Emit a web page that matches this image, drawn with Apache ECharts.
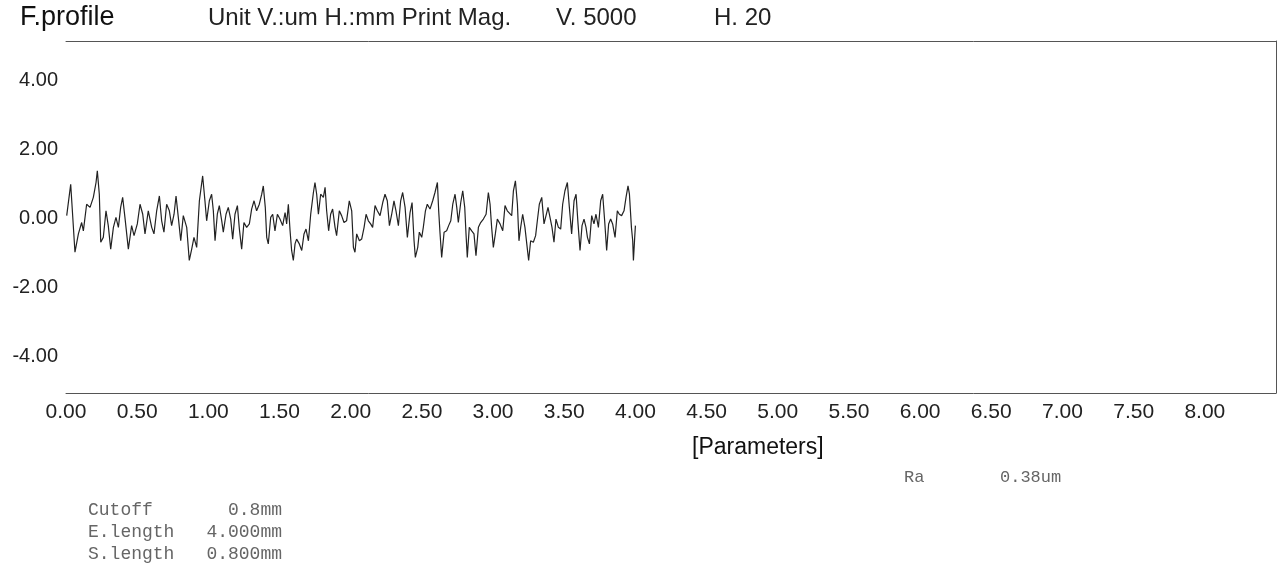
<!DOCTYPE html>
<html>
<head>
<meta charset="utf-8">
<script src="https://cdn.jsdelivr.net/npm/echarts@6/dist/echarts.min.js"></script>
<style>
html,body{margin:0;padding:0;background:#fff;}
#chart{width:1280px;height:587px;}
</style>
</head>
<body>
<div id="chart"></div>
<script>
// Profile position (mm)
const positionMm = [
0.005,0.033,0.063,0.087,0.110,0.122,0.145,0.169,0.192,0.211,0.220,0.234,0.244,0.262,0.281,0.297,0.314,0.333,0.351,0.368,
0.384,0.398,0.414,0.438,0.461,0.478,0.501,0.520,0.539,0.555,0.578,0.602,0.618,0.637,0.656,0.672,0.688,0.707,0.726,0.742,
0.759,0.773,0.789,0.806,0.824,0.848,0.866,0.883,0.899,0.918,0.937,0.960,0.976,0.988,
1.007,1.023,1.035,1.047,1.063,1.077,1.094,1.105,1.124,1.140,1.157,1.171,1.187,1.204,1.218,1.234,1.250,1.269,1.288,1.304,
1.321,1.339,1.358,1.375,1.386,1.400,1.410,1.421,1.438,1.452,1.468,1.485,1.503,1.522,1.539,1.550,1.562,1.574,1.585,1.597,
1.609,1.620,1.639,1.656,1.672,1.686,1.703,1.719,1.738,1.749,1.761,1.773,1.789,1.808,1.820,1.831,1.845,1.859,1.873,1.890,
1.901,1.920,1.936,1.953,1.971,1.990,2.007,2.019,2.030,2.042,2.061,
2.077,2.094,2.108,2.124,2.140,2.154,2.171,2.187,2.206,2.225,2.241,2.257,2.272,2.288,2.304,2.318,2.335,2.351,2.365,2.382,
2.398,2.417,2.431,2.445,2.454,2.471,2.482,2.499,2.510,2.525,2.538,2.557,2.576,2.592,2.609,2.618,2.627,2.639,2.656,2.674,
2.688,2.703,2.717,2.733,2.745,2.756,2.773,2.787,2.801,2.810,2.819,2.833,2.850,2.866,2.880,2.897,2.913,2.932,2.951,2.967,
2.979,2.990,3.002,3.016,3.030,3.049,3.068,3.084,3.100,
3.114,3.131,3.143,3.157,3.171,3.182,3.194,3.208,3.224,3.241,3.250,3.264,3.283,3.299,3.311,3.325,3.342,3.358,3.372,3.386,
3.400,3.414,3.428,3.442,3.459,3.475,3.489,3.505,3.522,3.536,3.552,3.569,3.583,3.597,3.611,3.625,3.639,3.653,3.663,3.677,
3.693,3.709,3.723,3.740,3.756,3.770,3.784,3.798,3.812,3.826,3.840,3.857,3.873,3.887,3.903,3.920,3.934,3.948,3.958,3.972,
3.981,3.986,3.995,4.000
];
// Profile height (um)
const heightUm = [
0.09,1.00,-0.97,-0.44,-0.11,-0.35,0.42,0.33,0.62,1.05,1.39,0.71,-0.68,-0.54,0.23,-0.20,-0.88,-0.25,0.04,-0.25,
0.33,0.62,0.04,-0.88,-0.20,-0.49,-0.15,0.42,0.13,-0.44,0.23,-0.25,-0.44,0.23,0.66,-0.06,-0.39,0.42,0.23,-0.20,
0.13,0.66,0.04,-0.64,0.09,-0.25,-1.21,-0.88,-0.54,-0.83,0.52,1.24,0.52,-0.06,
0.52,0.71,0.23,-0.64,0.13,0.38,-0.06,-0.39,0.13,0.33,-0.01,-0.59,0.13,0.38,-0.30,-0.88,-0.11,-0.25,-0.15,0.28,
0.52,0.23,0.42,0.71,0.95,0.33,-0.54,-0.73,0.04,0.13,-0.35,0.13,-0.01,-0.20,0.18,-0.15,0.42,-0.35,-0.92,-1.21,
-0.73,-0.59,-0.73,-0.92,-0.44,-0.30,-0.64,0.13,0.76,1.05,0.71,0.13,0.71,0.62,0.91,0.23,-0.35,0.13,0.28,-0.25,
-0.49,0.23,0.09,-0.11,-0.06,0.52,0.23,-0.83,-0.97,-0.44,-0.64,
-0.59,-0.25,0.13,-0.06,-0.15,-0.25,0.38,0.23,0.09,0.47,0.71,0.52,-0.20,0.13,0.52,0.23,-0.20,0.52,0.76,0.33,
-0.54,0.18,0.47,-0.64,-1.12,-0.83,-0.39,-0.54,-0.25,0.23,0.42,0.28,0.52,0.76,1.05,0.23,-0.39,-1.12,-0.39,-0.35,
-0.20,-0.06,0.42,0.71,0.33,-0.11,0.47,0.81,0.33,-0.44,-1.12,-0.25,-0.35,-0.44,-1.07,-0.25,-0.11,-0.01,0.13,0.76,
0.42,-0.25,-0.83,-0.44,-0.01,-0.15,-0.35,0.38,0.23,
0.23,0.09,0.81,1.10,0.42,-0.64,-0.25,0.13,-0.25,-0.88,-1.21,-0.64,-0.68,-0.49,-0.06,0.42,0.62,-0.15,-0.11,0.33,
0.38,-0.25,-0.68,-0.01,-0.25,-0.30,0.42,0.81,1.05,0.33,-0.44,0.52,0.71,-0.15,-0.92,-0.20,-0.01,-0.25,-0.54,-0.73,
0.09,-0.15,0.13,-0.25,0.52,0.71,-0.06,-0.92,-0.15,-0.01,-0.15,-0.54,0.23,0.13,0.09,0.23,0.62,0.95,0.71,-0.25,
-0.64,-1.21,-0.54,-0.20
];
const xTickValues = [0,0.5,1,1.5,2,2.5,3,3.5,4,4.5,5,5.5,6,6.5,7,7.5,8];
const yTickValues = [-4,-2,0,2,4];
const headerTexts = ['F.profile','Unit V.:um H.:mm Print Mag.','V. 5000','H. 20'];
const paramNames = ['Cutoff','E.length','S.length'];
const paramValues = ['0.8mm','4.000mm','0.800mm'];
const resultName = 'Ra';
const resultValue = '0.38um';

const chart = echarts.init(document.getElementById('chart'), null, {renderer:'canvas'});
const frameColor = '#555';
const sans = 'Liberation Sans, Arial, sans-serif';
const mono = 'Liberation Mono, Courier New, monospace';

const graphics = [
  {type:'text', left:20, top:4, style:{text:headerTexts[0], font:'27px '+sans, fill:'#111'}},
  {type:'text', left:208, top:6, style:{text:headerTexts[1], font:'24px '+sans, fill:'#222'}},
  {type:'text', left:556, top:6, style:{text:headerTexts[2], font:'24px '+sans, fill:'#222'}},
  {type:'text', left:714, top:6, style:{text:headerTexts[3], font:'24px '+sans, fill:'#222'}},
  {type:'text', left:692, top:436, style:{text:'[Parameters]', font:'23px '+sans, fill:'#111'}},
  {type:'text', left:904, top:469, style:{text:resultName, font:'17px '+mono, fill:'#666'}},
  {type:'text', left:1000, top:469, style:{text:resultValue, font:'17px '+mono, fill:'#666'}}
];
paramNames.forEach((n,i)=>{
  graphics.push({type:'text', left:88, top:501+i*22, style:{text:n, font:'18px '+mono, fill:'#666'}});
  graphics.push({type:'text', right:1280-282, top:501+i*22, style:{text:paramValues[i], font:'18px '+mono, fill:'#666', align:'right'}});
});

chart.setOption({
  animation:false,
  backgroundColor:'#fff',
  grid:{left:66, right:4, top:41, bottom:194},
  graphic:graphics,
  xAxis:[
    {type:'value', min:0, max:8.5, interval:0.5, position:'bottom',
     axisLine:{show:true, onZero:false, lineStyle:{color:frameColor, width:1}},
     axisTick:{show:false}, splitLine:{show:false},
     axisLabel:{customValues:xTickValues, formatter:v=>v.toFixed(2), fontFamily:sans, fontSize:21, color:'#222', margin:9}},
    {type:'value', min:0, max:8.5, position:'top',
     axisLine:{show:true, onZero:false, lineStyle:{color:frameColor, width:1}},
     axisTick:{show:false}, splitLine:{show:false}, axisLabel:{show:false}}
  ],
  yAxis:[
    {type:'value', min:-5.05, max:5.15, position:'left',
     axisLine:{show:false}, axisTick:{show:false}, splitLine:{show:false},
     axisLabel:{customValues:yTickValues, formatter:v=>v.toFixed(2), fontFamily:sans, fontSize:20, color:'#222', margin:8}},
    {type:'value', min:-5.05, max:5.15, position:'right',
     axisLine:{show:true, onZero:false, lineStyle:{color:frameColor, width:1}},
     axisTick:{show:false}, splitLine:{show:false}, axisLabel:{show:false}}
  ],
  series:[{
    type:'line',
    data:positionMm.map((x,i)=>[x, heightUm[i]]),
    showSymbol:false, symbol:'none',
    lineStyle:{color:'#222', width:1.2},
    silent:true
  }]
});
</script>
</body>
</html>
